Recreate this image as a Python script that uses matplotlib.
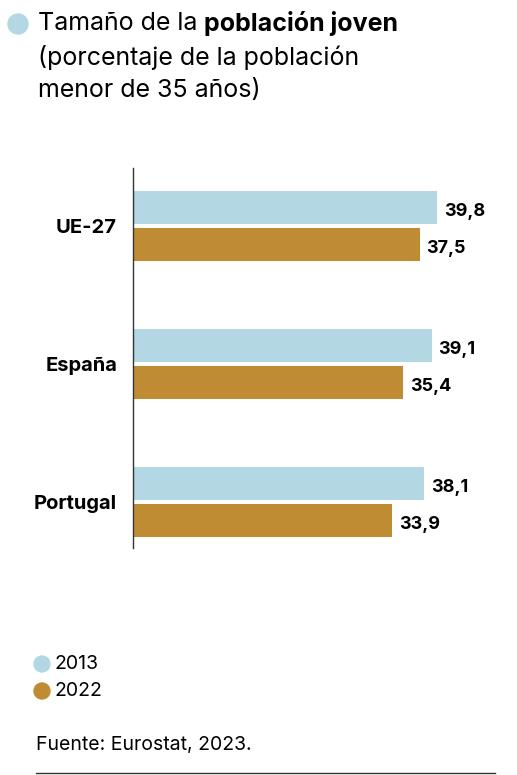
import matplotlib
matplotlib.use("Agg")
import matplotlib.pyplot as plt
from matplotlib.patches import Ellipse
from matplotlib.lines import Line2D

plt.rcParams['font.family'] = ['Inter', 'DejaVu Sans']

categories = ["UE-27", "España", "Portugal"]
years = ["2013", "2022"]
vals_2013 = [39.8, 39.1, 38.1]
vals_2022 = [37.5, 35.4, 33.9]

c_2013 = "#b3d7e3"
c_2022 = "#bf8c33"

W, H = 517, 775
fig = plt.figure(figsize=(W / 100, H / 100), dpi=100)


def dot(x, y, r, col):
    # round dot given in pixel coords
    fig.patches.append(Ellipse((x / W, 1 - y / H), 2 * r / W, 2 * r / H,
                               transform=fig.transFigure, color=col, zorder=5))


# axes placed in pixel coords
ax_l, ax_r, ax_t, ax_b = 133, 515, 168, 548
ax = fig.add_axes([ax_l / W, 1 - ax_b / H, (ax_r - ax_l) / W, (ax_b - ax_t) / H])

ys = list(range(len(categories)))
off = 0.134
h = 0.24
ax.barh([y - off for y in ys], vals_2013, height=h, color=c_2013)
ax.barh([y + off for y in ys], vals_2022, height=h, color=c_2022)

for y, v in zip(ys, vals_2013):
    ax.text(v + 0.9, y - off + 0.03, f"{v:.1f}".replace(".", ","), va="center", ha="left",
            fontsize=13, fontweight="bold")
for y, v in zip(ys, vals_2022):
    ax.text(v + 0.9, y + off + 0.03, f"{v:.1f}".replace(".", ","), va="center", ha="left",
            fontsize=13, fontweight="bold")

ax.set_xlim(0, 50)
ax.set_ylim(2.333, -0.42)
ax.set_yticks(ys)
ax.set_yticklabels(categories, fontsize=14.5, fontweight="bold")
ax.tick_params(axis="y", length=0, pad=11.5)
ax.set_xticks([])
for s in ["top", "right", "bottom"]:
    ax.spines[s].set_visible(False)
ax.spines["left"].set_linewidth(1.0)
ax.spines["left"].set_color("#333333")

# title
dot(18, 24, 10, c_2013)
t1 = fig.text(38 / W, 1 - 24 / H, "Tamaño de la ", fontsize=18, va="center", ha="left")
fig.canvas.draw()
bb = t1.get_window_extent()
fig.text(bb.x1 / W, 1 - 24 / H, "población joven", fontsize=18, fontweight="bold",
         va="center", ha="left")
fig.text(38 / W, 1 - 58 / H, "(porcentaje de la población", fontsize=18, va="center", ha="left")
fig.text(38 / W, 1 - 90 / H, "menor de 35 años)", fontsize=18, va="center", ha="left")

# legend
for yy, col, lab in [(664, c_2013, years[0]), (691, c_2022, years[1])]:
    dot(42, yy, 8, col)
    fig.text(55 / W, 1 - yy / H, lab, fontsize=14, va="center", ha="left")

fig.text(36 / W, 1 - 745 / H, "Fuente: Eurostat, 2023.", fontsize=14, va="center", ha="left")
fig.lines.append(Line2D([36 / W, 495 / W], [1 - 773 / H, 1 - 773 / H], transform=fig.transFigure,
                        color="#333333", linewidth=1.0))

fig.savefig("out.png", dpi=100)
